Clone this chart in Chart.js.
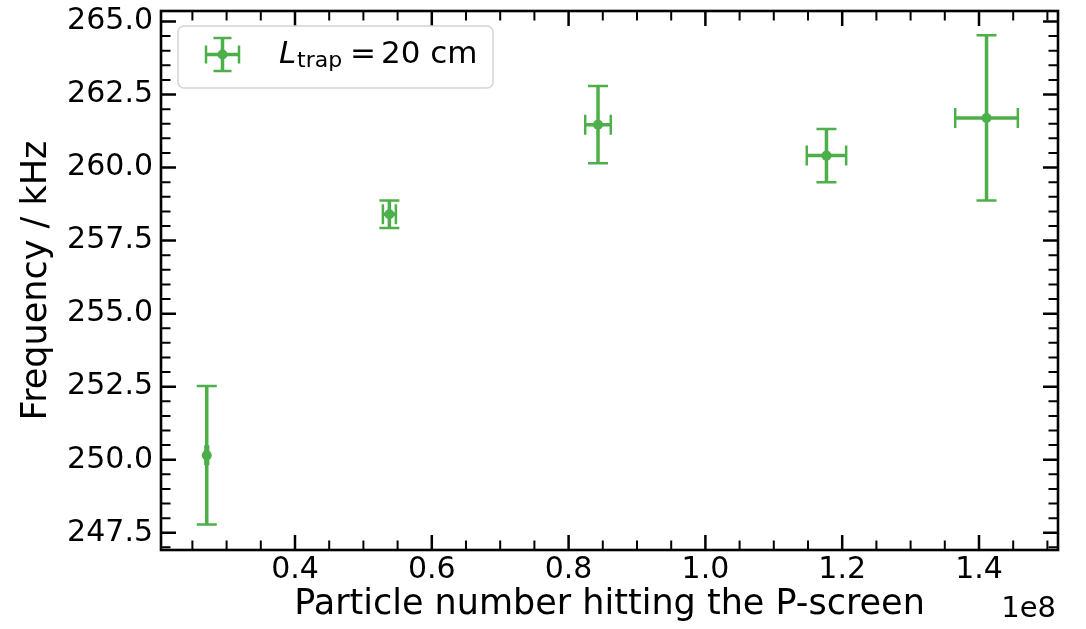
<!DOCTYPE html>
<html>
<head>
<meta charset="utf-8">
<script src="https://cdn.jsdelivr.net/npm/chart.js@4.4.1/dist/chart.umd.min.js"></script>
<style>
  html, body { margin: 0; padding: 0; background: #fff; }
  #wrap { width: 1086px; height: 629px; }
</style>
</head>
<body>
<div id="wrap"><canvas id="c" width="1086" height="629"></canvas></div>
<script>
// Measured resonance frequency vs. number of particles on the P-screen (x in units of 1e8)
const particlesE8      = [0.271, 0.538, 0.843, 1.177, 1.411];
const particlesErrE8   = [0.002, 0.0095, 0.0187, 0.0288, 0.0458];
const frequencyKHz     = [250.15, 258.40, 261.47, 260.41, 261.70];
const frequencyErrKHz  = [2.37, 0.47, 1.32, 0.91, 2.83];

const xMajorTicks = [0.4, 0.6, 0.8, 1.0, 1.2, 1.4];
const yMajorTicks = [247.5, 250.0, 252.5, 255.0, 257.5, 260.0, 262.5, 265.0];
const xMinorStep = 0.05;
const yMinorStep = 0.5;

const seriesLabel = { main: 'L', sub: 'trap', rest: '20 cm' };
const xTitle = 'Particle number hitting the P-screen';
const yTitle = 'Frequency / kHz';
const xOffsetText = '1e8';

const GREEN = '#4daf4a';
const FONT = '"DejaVu Sans", sans-serif';

const points = particlesE8.map((x, i) => ({
  x: x, y: frequencyKHz[i], xErr: particlesErrE8[i], yErr: frequencyErrKHz[i]
}));

// error bars with caps, drawn beneath the markers
const errorBars = {
  id: 'errorBars',
  beforeDatasetsDraw(chart) {
    const ctx = chart.ctx;
    const xs = chart.scales.x, ys = chart.scales.y;
    const cap = 10;
    ctx.save();
    ctx.strokeStyle = GREEN;
    points.forEach(p => {
      const cx = xs.getPixelForValue(p.x), cy = ys.getPixelForValue(p.y);
      const x0 = xs.getPixelForValue(p.x - p.xErr), x1 = xs.getPixelForValue(p.x + p.xErr);
      const y0 = ys.getPixelForValue(p.y - p.yErr), y1 = ys.getPixelForValue(p.y + p.yErr);
      ctx.lineWidth = 3.5;
      ctx.beginPath();
      ctx.moveTo(cx, y0); ctx.lineTo(cx, y1);
      ctx.moveTo(x0, cy); ctx.lineTo(x1, cy);
      ctx.stroke();
      ctx.lineWidth = 2.5;
      ctx.beginPath();
      ctx.moveTo(cx - cap, y0); ctx.lineTo(cx + cap, y0);
      ctx.moveTo(cx - cap, y1); ctx.lineTo(cx + cap, y1);
      ctx.moveTo(x0, cy - cap); ctx.lineTo(x0, cy + cap);
      ctx.moveTo(x1, cy - cap); ctx.lineTo(x1, cy + cap);
      ctx.stroke();
    });
    ctx.restore();
  }
};

// boxed frame with inward major/minor ticks on all four sides, offset text and legend
const frame = {
  id: 'frame',
  afterDraw(chart) {
    const ctx = chart.ctx;
    const a = chart.chartArea;
    const xs = chart.scales.x, ys = chart.scales.y;
    const MAJ = 15, MIN = 9.5;
    ctx.save();
    ctx.strokeStyle = '#000';

    const drawX = (v, len, w) => {
      const px = xs.getPixelForValue(v);
      ctx.lineWidth = w;
      ctx.beginPath();
      ctx.moveTo(px, a.bottom); ctx.lineTo(px, a.bottom - len);
      ctx.moveTo(px, a.top); ctx.lineTo(px, a.top + len);
      ctx.stroke();
    };
    const drawY = (v, len, w) => {
      const py = ys.getPixelForValue(v);
      ctx.lineWidth = w;
      ctx.beginPath();
      ctx.moveTo(a.left, py); ctx.lineTo(a.left + len, py);
      ctx.moveTo(a.right, py); ctx.lineTo(a.right - len, py);
      ctx.stroke();
    };
    const eps = 1e-9;
    for (let k = Math.ceil(xs.min / xMinorStep - eps); k * xMinorStep <= xs.max + eps; k++) {
      const v = k * xMinorStep;
      if (!xMajorTicks.some(t => Math.abs(t - v) < 1e-6)) drawX(v, MIN, 2);
    }
    for (let k = Math.ceil(ys.min / yMinorStep - eps); k * yMinorStep <= ys.max + eps; k++) {
      const v = k * yMinorStep;
      if (!yMajorTicks.some(t => Math.abs(t - v) < 1e-6)) drawY(v, MIN, 2);
    }
    xMajorTicks.forEach(v => drawX(v, MAJ, 2.5));
    yMajorTicks.forEach(v => drawY(v, MAJ, 2.5));

    ctx.lineWidth = 2.6;
    ctx.strokeRect(a.left, a.top, a.right - a.left, a.bottom - a.top);

    // scale factor of the x axis
    ctx.fillStyle = '#000';
    ctx.font = '29px ' + FONT;
    ctx.textAlign = 'right';
    ctx.textBaseline = 'alphabetic';
    ctx.fillText(xOffsetText, a.right - 2, 617);

    // legend
    const bx = 178, by = 26, bw = 315, bh = 62, r = 6;
    ctx.beginPath();
    ctx.roundRect(bx, by, bw, bh, r);
    ctx.fillStyle = 'rgba(255,255,255,0.8)';
    ctx.fill();
    ctx.lineWidth = 1.5;
    ctx.strokeStyle = '#d4d4d4';
    ctx.stroke();

    const gx = 222.5, gy = 54.5, gh = 16.5, gc = 9;
    ctx.strokeStyle = GREEN;
    ctx.lineWidth = 3.5;
    ctx.beginPath();
    ctx.moveTo(gx - gh, gy); ctx.lineTo(gx + gh, gy);
    ctx.moveTo(gx, gy - gh); ctx.lineTo(gx, gy + gh);
    ctx.stroke();
    ctx.lineWidth = 2.5;
    ctx.beginPath();
    ctx.moveTo(gx - gc, gy - gh); ctx.lineTo(gx + gc, gy - gh);
    ctx.moveTo(gx - gc, gy + gh); ctx.lineTo(gx + gc, gy + gh);
    ctx.moveTo(gx - gh, gy - gc); ctx.lineTo(gx - gh, gy + gc);
    ctx.moveTo(gx + gh, gy - gc); ctx.lineTo(gx + gh, gy + gc);
    ctx.stroke();
    ctx.fillStyle = GREEN;
    ctx.beginPath();
    ctx.arc(gx, gy, 5, 0, Math.PI * 2);
    ctx.fill();

    ctx.fillStyle = '#000';
    ctx.textAlign = 'left';
    ctx.textBaseline = 'alphabetic';
    ctx.font = 'italic 31px ' + FONT;
    ctx.fillText(seriesLabel.main, 279, 63);
    ctx.font = '22px ' + FONT;
    ctx.fillText(seriesLabel.sub, 297, 67);
    ctx.font = '31px ' + FONT;
    ctx.textAlign = 'center';
    ctx.fillText('=', 363, 63);
    ctx.textAlign = 'left';
    ctx.fillText(seriesLabel.rest, 381, 63);
    ctx.restore();
  }
};

new Chart(document.getElementById('c'), {
  type: 'scatter',
  data: {
    datasets: [{
      label: seriesLabel.main + seriesLabel.sub + ' = ' + seriesLabel.rest,
      data: points,
      pointRadius: 5,
      pointHoverRadius: 5,
      pointBackgroundColor: GREEN,
      pointBorderWidth: 0,
      showLine: false
    }]
  },
  options: {
    responsive: false,
    animation: false,
    devicePixelRatio: 1,
    layout: { padding: { left: 0, top: 11, right: 28, bottom: 0 } },
    plugins: { legend: { display: false }, tooltip: { enabled: false } },
    scales: {
      x: {
        type: 'linear',
        min: 0.2041,
        max: 1.5155,
        afterBuildTicks(s) { s.ticks = xMajorTicks.map(v => ({ value: v })); },
        afterFit(s) { s.height = 79; s.paddingLeft = 0; s.paddingRight = 0; },
        ticks: {
          autoSkip: false, maxRotation: 0, padding: 2, color: '#000',
          font: { family: FONT, size: 30 },
          callback: v => Number(v).toFixed(1)
        },
        grid: { display: false, drawTicks: false },
        border: { display: false },
        title: {
          display: true, text: xTitle, color: '#000',
          font: { family: FONT, size: 35 },
          padding: { top: 0, bottom: 3 }
        }
      },
      y: {
        type: 'linear',
        min: 246.91,
        max: 265.36,
        afterBuildTicks(s) { s.ticks = yMajorTicks.map(v => ({ value: v })); },
        afterFit(s) { s.width = 161; s.paddingTop = 0; s.paddingBottom = 0; },
        ticks: {
          autoSkip: false, padding: 8, color: '#000',
          font: { family: FONT, size: 30 },
          callback: v => Number(v).toFixed(1)
        },
        grid: { display: false, drawTicks: false },
        border: { display: false },
        title: {
          display: true, text: yTitle, color: '#000',
          font: { family: FONT, size: 35 },
          padding: { top: 16, bottom: 0 }
        }
      }
    }
  },
  plugins: [errorBars, frame]
});
</script>
</body>
</html>
